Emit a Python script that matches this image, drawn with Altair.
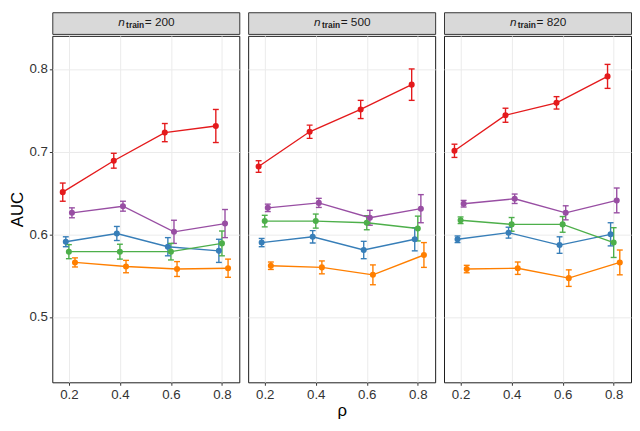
import altair as alt
import pandas as pd

# values: one list per method, ordered like rho
rho = [0.2, 0.4, 0.6, 0.8]
n_train = [200, 500, 820]
methods = ["m1", "m2", "m3", "m4", "m5"]
colors = ["#E41A1C", "#377EB8", "#4DAF4A", "#984EA3", "#FF7F00"]

auc_200 = [
    [0.651, 0.689, 0.723, 0.731],
    [0.591, 0.601, 0.585, 0.580],
    [0.579, 0.579, 0.579, 0.589],
    [0.626, 0.634, 0.603, 0.613],
    [0.566, 0.561, 0.558, 0.559],
]
err_200 = [
    [0.011, 0.009, 0.011, 0.020],
    [0.006, 0.0085, 0.011, 0.014],
    [0.0085, 0.009, 0.010, 0.015],
    [0.006, 0.006, 0.014, 0.017],
    [0.0055, 0.0075, 0.009, 0.011],
]
auc_500 = [
    [0.682, 0.724, 0.751, 0.781],
    [0.590, 0.597, 0.581, 0.594],
    [0.616, 0.616, 0.614, 0.607],
    [0.632, 0.638, 0.620, 0.631],
    [0.562, 0.560, 0.551, 0.575],
]
err_500 = [
    [0.007, 0.008, 0.011, 0.019],
    [0.005, 0.0075, 0.0105, 0.014],
    [0.007, 0.0085, 0.0085, 0.015],
    [0.0045, 0.0055, 0.009, 0.017],
    [0.0045, 0.0078, 0.012, 0.015],
]
auc_820 = [
    [0.701, 0.744, 0.759, 0.791],
    [0.594, 0.602, 0.587, 0.600],
    [0.617, 0.612, 0.612, 0.590],
    [0.637, 0.643, 0.626, 0.641],
    [0.558, 0.559, 0.547, 0.566],
]
err_820 = [
    [0.008, 0.0085, 0.0075, 0.0145],
    [0.004, 0.0066, 0.010, 0.014],
    [0.004, 0.0083, 0.0095, 0.018],
    [0.004, 0.0057, 0.0085, 0.015],
    [0.0045, 0.0075, 0.010, 0.015],
]

auc = {200: auc_200, 500: auc_500, 820: auc_820}
err = {200: err_200, 500: err_500, 820: err_820}

DODGE = 0.012
rows = []
for n in n_train:
    for k, m in enumerate(methods):
        for j, r in enumerate(rho):
            a, e = auc[n][k][j], err[n][k][j]
            rows.append(dict(n=n, method=m, rho=r, xd=r + (k - 2) * DODGE,
                             auc=a, lo=a - e, hi=a + e))
df = pd.DataFrame(rows)

W, H, STRIP = 190, 352, 22
FONT = "Liberation Sans"
LW = 1.4
xscale = alt.Scale(domain=[0.135, 0.868], nice=False, zero=False)
yscale = alt.Scale(domain=[0.421, 0.840], nice=False, zero=False)
cscale = alt.Scale(domain=methods, range=colors)
yticks = [0.5, 0.6, 0.7, 0.8]


def strip(n):
    s = alt.Chart(alt.Data(values=[{"label": f"= {n}"}]))
    c = W / 2
    t_n = s.mark_text(text="n", font=FONT, fontStyle="italic", fontSize=12,
                      color="#1A1A1A", align="left", baseline="alphabetic"
                      ).encode(x=alt.value(c - 28), y=alt.value(14))
    t_sub = s.mark_text(text="train", font=FONT, fontWeight="bold", fontSize=8.5,
                        color="#1A1A1A", align="left", baseline="alphabetic"
                        ).encode(x=alt.value(c - 20), y=alt.value(16))
    t_eq = s.mark_text(font=FONT, fontSize=12, color="#1A1A1A", align="left",
                       baseline="alphabetic"
                       ).encode(x=alt.value(c - 1), y=alt.value(14), text="label:N")
    return alt.layer(t_n, t_sub, t_eq).properties(
        width=W, height=STRIP,
        view=alt.ViewBackground(fill="#D9D9D9", stroke="#333333", strokeWidth=1),
    )


def panel(i, n):
    if i == 0:
        yaxis = alt.Axis(values=yticks, format=".1f", title="AUC")
    else:
        yaxis = alt.Axis(values=yticks, labels=False, ticks=False, title=None)
    xaxis = alt.Axis(values=rho, format=".1f", title="ρ" if i == 1 else None)

    base = alt.Chart(df).transform_filter(alt.datum.n == n)
    x = alt.X("xd:Q", scale=xscale, axis=xaxis)
    color = alt.Color("method:N", scale=cscale, legend=None)

    line = base.mark_line(strokeWidth=LW).encode(
        x=x, y=alt.Y("auc:Q", scale=yscale, axis=yaxis), color=color)
    bar = base.mark_rule(strokeWidth=LW).encode(
        x=x, y=alt.Y("lo:Q", scale=yscale), y2="hi:Q", color=color)
    cap_lo = base.mark_tick(orient="horizontal", size=6, thickness=LW, opacity=1).encode(
        x=x, y=alt.Y("lo:Q", scale=yscale), color=color)
    cap_hi = base.mark_tick(orient="horizontal", size=6, thickness=LW, opacity=1).encode(
        x=x, y=alt.Y("hi:Q", scale=yscale), color=color)
    pts = base.mark_circle(size=38, opacity=1).encode(
        x=x, y=alt.Y("auc:Q", scale=yscale), color=color)

    body = alt.layer(bar, cap_lo, cap_hi, line, pts).properties(width=W, height=H)
    return alt.vconcat(strip(n), body, spacing=0)


chart = (
    alt.hconcat(*[panel(i, n) for i, n in enumerate(n_train)], spacing=7)
    .properties(padding=0)
    .configure_view(stroke="#1A1A1A", strokeWidth=1)
    .configure_axis(
        grid=True, gridColor="#EBEBEB", gridWidth=1, domain=False,
        labelFont=FONT, labelFontSize=13.5, labelColor="#333333", labelPadding=2,
        tickColor="#333333", tickSize=3,
        titleFont=FONT, titleFontSize=17, titleFontWeight="normal",
        titleColor="#000000",
    )
    .configure_axisY(titlePadding=2)
    .configure_axisX(titlePadding=2)
)

chart.save("out.html", embed_options={"renderer": "svg", "actions": False})
